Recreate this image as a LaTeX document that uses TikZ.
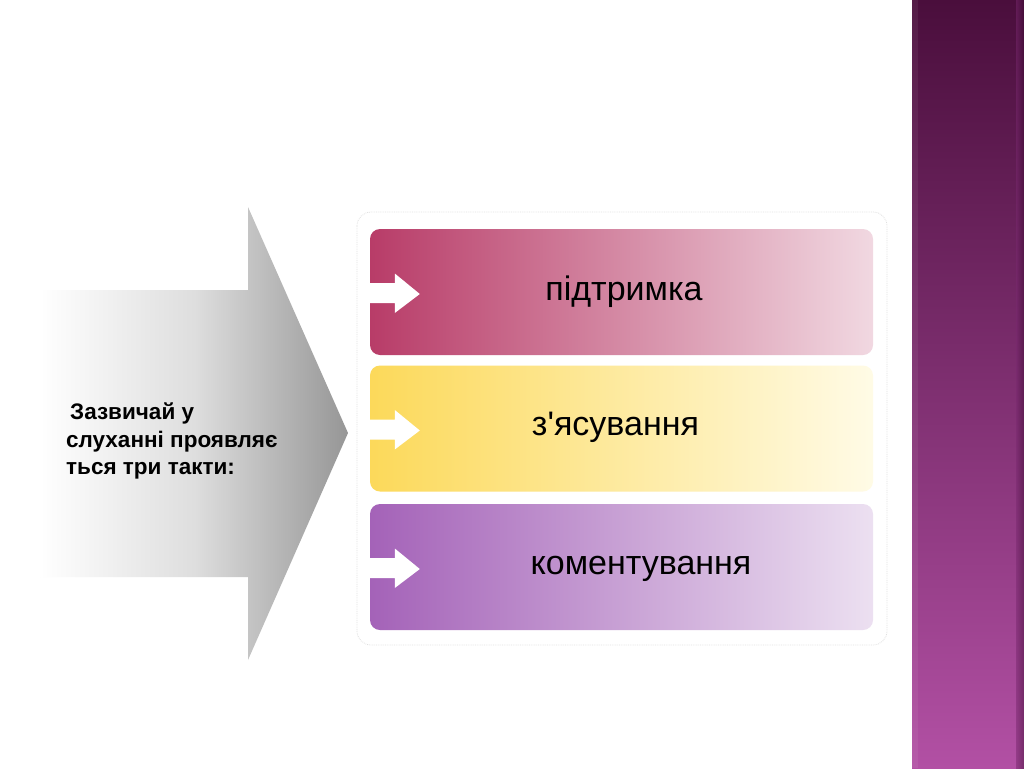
\documentclass[tikz,border=0pt]{standalone}
\usepackage{fontspec}
\setmainfont{Liberation Sans}
\begin{document}
\begin{tikzpicture}[x=1pt,y=-1pt,
  stepbox/.style={rounded corners=10pt, minimum width=503pt, minimum height=126pt, inner sep=0pt},
  steptext/.style={font=\fontsize{34}{40}\selectfont, text=black, inner sep=0pt},
  faint/.style={draw=black!12, densely dotted, line width=0.8pt}]
\useasboundingbox (0,0) rectangle (1024,768);
\fill[white] (0,0) rectangle (1024,768);
% purple band
\shade[top color={rgb,255:red,74;green,14;blue,60}, bottom color={rgb,255:red,178;green,80;blue,164}] (912,0) rectangle (1024,768);
\shade[left color={rgb,255:red,120;green,40;blue,110}, right color={rgb,255:red,60;green,10;blue,50}, opacity=0.5] (1016,0) rectangle (1024,768);
\fill[white, opacity=0.06] (912,0) rectangle (918,768);
% faint frames
\draw[faint] (40,577) -- (40,290) -- (248,290);
\draw[faint, rounded corners=14pt] (357,212) rectangle (887,645);
% big arrow
\shade[left color=white, right color={rgb,255:red,150;green,150;blue,150}, middle color={rgb,255:red,222;green,222;blue,222}]
  (40,290) -- (248,290) -- (248,207) -- (348,433) -- (248,660) -- (248,577) -- (40,577) -- cycle;
\node[anchor=west, align=left, font=\fontsize{22.5}{27.5}\selectfont\bfseries, inner sep=0pt] (lead) at (66,441)
  {\hspace{4pt}Зазвичай у\\слуханні проявляє\\ться три такти:};
% boxes
\node[stepbox, left color={rgb,255:red,184;green,60;blue,104}, right color={rgb,255:red,241;green,216;blue,225}] (b1) at (621.5,292) {};
\node[stepbox, left color={rgb,255:red,252;green,217;blue,90}, right color={rgb,255:red,255;green,251;blue,230}] (b2) at (621.5,428.5) {};
\node[stepbox, left color={rgb,255:red,164;green,98;blue,184}, right color={rgb,255:red,236;green,224;blue,241}] (b3) at (621.5,567) {};
\node[steptext] (t1) at (624,291.5) {підтримка};
\node[steptext] (t2) at (615.5,427) {з\textquotesingle ясування};
\node[steptext] (t3) at (641,568.5) {коментування};
% white arrows
\foreach \b in {b1,b2,b3}{
  \begin{scope}[shift={(\b.west)}]
    \fill[white] (0,-9) -- (25,-9) -- (25,-18.5) -- (50,2) -- (25,21) -- (25,11) -- (0,11) -- cycle;
  \end{scope}
}
\end{tikzpicture}
\end{document}
